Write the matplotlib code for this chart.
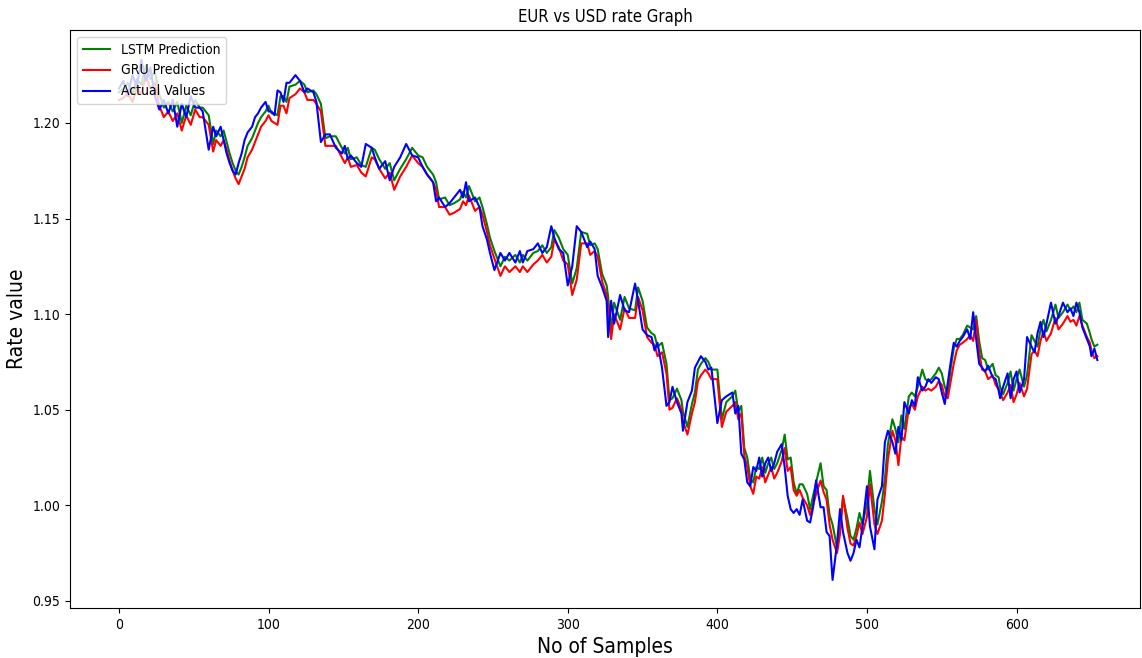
import numpy as np
import matplotlib
matplotlib.use("Agg")
import matplotlib.pyplot as plt
from matplotlib import font_manager

# Sample index of each reading
samples = [0, 3, 6, 9, 12, 15, 18, 21, 24, 27, 30, 33, 36, 39, 42, 45, 48, 51, 54, 56,
           60, 63, 65, 68, 70, 72, 74, 76, 78, 80, 82, 84, 86, 89, 91, 93, 95, 98, 100, 102,
           104, 106, 108, 110, 112, 114, 118, 121, 124, 126, 130, 132, 135, 138, 141, 145, 149, 151, 153, 155,
           159, 162, 165, 169, 171, 174, 178, 181, 184, 188, 192, 196, 200, 203, 206, 210, 212, 214, 218, 221,
           224, 228, 230, 232, 234, 238, 241, 243, 246, 248, 251, 255, 258, 261, 265, 268, 270, 273, 277, 280,
           283, 286, 289, 291, 294, 297, 300, 303, 306, 309, 313, 315, 318, 320, 323, 326, 327, 329, 331, 335,
           338, 341, 345, 347, 350, 353, 356, 358, 360, 363, 366, 368, 370, 373, 376, 377, 380, 383, 385, 387,
           389, 392, 394, 396, 400, 403, 406, 410, 412, 414, 416, 418, 420, 422, 424, 426, 428, 430, 432, 434,
           436, 438, 440, 443, 445, 447, 449, 451, 453, 455, 457, 460, 462, 464, 466, 469, 471, 473, 475, 477,
           480, 482, 484, 487, 489, 491, 493, 495, 497, 500, 502, 505, 507, 510, 512, 514, 517, 519, 521, 523,
           525, 528, 530, 532, 534, 537, 539, 541, 543, 546, 548, 550, 552, 554, 556, 558, 560, 562, 564, 567,
           569, 571, 573, 575, 577, 579, 581, 584, 586, 588, 589, 591, 594, 596, 598, 600, 602, 605, 607, 610,
           612, 614, 616, 618, 620, 623, 626, 628, 631, 634, 636, 638, 640, 642, 644, 647, 649, 650, 652, 654]

actual = [1.218, 1.222, 1.214, 1.225, 1.219, 1.233, 1.222, 1.229, 1.214, 1.207, 1.212, 1.205, 1.212, 1.198, 1.210, 1.203, 1.214, 1.208, 1.208, 1.206,
          1.186, 1.198, 1.193, 1.198, 1.191, 1.184, 1.179, 1.175, 1.173, 1.179, 1.184, 1.191, 1.195, 1.198, 1.203, 1.205, 1.208, 1.211, 1.206, 1.206,
          1.204, 1.217, 1.216, 1.211, 1.221, 1.221, 1.225, 1.222, 1.216, 1.218, 1.216, 1.211, 1.190, 1.194, 1.194, 1.187, 1.184, 1.188, 1.181, 1.183,
          1.179, 1.177, 1.189, 1.187, 1.182, 1.176, 1.180, 1.170, 1.177, 1.182, 1.189, 1.183, 1.182, 1.177, 1.173, 1.169, 1.159, 1.161, 1.156, 1.158,
          1.161, 1.165, 1.161, 1.169, 1.159, 1.161, 1.156, 1.146, 1.139, 1.132, 1.123, 1.132, 1.128, 1.132, 1.127, 1.133, 1.127, 1.133, 1.134, 1.137,
          1.132, 1.135, 1.146, 1.140, 1.134, 1.132, 1.115, 1.125, 1.146, 1.143, 1.135, 1.138, 1.134, 1.120, 1.114, 1.107, 1.088, 1.107, 1.095, 1.110,
          1.102, 1.101, 1.116, 1.107, 1.092, 1.089, 1.088, 1.081, 1.085, 1.072, 1.052, 1.054, 1.062, 1.054, 1.048, 1.039, 1.054, 1.060, 1.072, 1.075,
          1.078, 1.075, 1.071, 1.072, 1.043, 1.055, 1.057, 1.059, 1.048, 1.052, 1.027, 1.024, 1.012, 1.010, 1.020, 1.018, 1.025, 1.015, 1.022, 1.025,
          1.018, 1.022, 1.028, 1.032, 1.020, 1.005, 0.998, 0.996, 0.998, 0.995, 1.003, 0.992, 0.991, 0.999, 1.013, 0.999, 0.999, 0.986, 0.984, 0.961,
          0.980, 0.998, 0.986, 0.975, 0.971, 0.975, 0.982, 0.978, 0.989, 1.010, 0.989, 0.977, 1.003, 1.010, 1.033, 1.039, 1.033, 1.027, 1.041, 1.034,
          1.054, 1.048, 1.055, 1.052, 1.067, 1.060, 1.062, 1.066, 1.064, 1.067, 1.066, 1.059, 1.053, 1.064, 1.075, 1.085, 1.083, 1.086, 1.088, 1.092,
          1.087, 1.101, 1.087, 1.074, 1.072, 1.070, 1.073, 1.067, 1.066, 1.060, 1.056, 1.062, 1.069, 1.056, 1.066, 1.070, 1.059, 1.066, 1.088, 1.083,
          1.080, 1.090, 1.096, 1.088, 1.095, 1.106, 1.095, 1.099, 1.106, 1.101, 1.103, 1.099, 1.106, 1.101, 1.093, 1.087, 1.083, 1.078, 1.082, 1.076]

lstm = [1.216, 1.218, 1.221, 1.215, 1.223, 1.220, 1.230, 1.223, 1.227, 1.215, 1.208, 1.211, 1.206, 1.211, 1.200, 1.209, 1.204, 1.212, 1.208, 1.208,
        1.204, 1.189, 1.196, 1.193, 1.196, 1.190, 1.184, 1.179, 1.175, 1.173, 1.177, 1.182, 1.188, 1.192, 1.196, 1.200, 1.203, 1.206, 1.209, 1.205,
        1.205, 1.204, 1.214, 1.214, 1.211, 1.219, 1.220, 1.222, 1.220, 1.216, 1.217, 1.215, 1.210, 1.192, 1.193, 1.193, 1.187, 1.184, 1.187, 1.181,
        1.182, 1.178, 1.177, 1.187, 1.186, 1.181, 1.176, 1.179, 1.170, 1.176, 1.181, 1.187, 1.183, 1.182, 1.177, 1.173, 1.169, 1.160, 1.161, 1.157,
        1.158, 1.160, 1.164, 1.161, 1.167, 1.159, 1.161, 1.156, 1.147, 1.140, 1.133, 1.125, 1.130, 1.128, 1.131, 1.127, 1.131, 1.128, 1.132, 1.133,
        1.136, 1.132, 1.135, 1.144, 1.140, 1.134, 1.131, 1.116, 1.124, 1.143, 1.142, 1.136, 1.137, 1.134, 1.121, 1.115, 1.109, 1.092, 1.106, 1.097,
        1.109, 1.103, 1.102, 1.114, 1.107, 1.093, 1.090, 1.089, 1.083, 1.085, 1.074, 1.055, 1.056, 1.061, 1.055, 1.049, 1.041, 1.053, 1.059, 1.071,
        1.074, 1.077, 1.075, 1.071, 1.071, 1.045, 1.054, 1.057, 1.060, 1.049, 1.052, 1.030, 1.025, 1.014, 1.012, 1.020, 1.019, 1.025, 1.017, 1.022,
        1.025, 1.019, 1.022, 1.029, 1.037, 1.024, 1.025, 1.012, 1.006, 1.011, 1.011, 1.006, 0.998, 1.005, 1.012, 1.022, 1.010, 1.008, 0.995, 0.990,
        0.978, 0.988, 1.004, 0.993, 0.984, 0.982, 0.988, 0.996, 0.990, 1.001, 1.018, 0.998, 0.990, 1.002, 1.014, 1.032, 1.045, 1.040, 1.033, 1.047,
        1.040, 1.057, 1.059, 1.057, 1.062, 1.071, 1.066, 1.065, 1.066, 1.069, 1.072, 1.069, 1.062, 1.058, 1.072, 1.082, 1.087, 1.087, 1.089, 1.094,
        1.093, 1.092, 1.099, 1.086, 1.077, 1.076, 1.071, 1.074, 1.068, 1.067, 1.062, 1.058, 1.064, 1.070, 1.060, 1.066, 1.071, 1.062, 1.068, 1.089,
        1.086, 1.083, 1.092, 1.097, 1.091, 1.097, 1.105, 1.098, 1.101, 1.105, 1.102, 1.104, 1.101, 1.106, 1.097, 1.095, 1.090, 1.087, 1.083, 1.084]

gru = [1.212, 1.213, 1.216, 1.211, 1.218, 1.215, 1.225, 1.218, 1.221, 1.209, 1.203, 1.206, 1.201, 1.205, 1.196, 1.204, 1.199, 1.207, 1.203, 1.203,
       1.199, 1.185, 1.191, 1.188, 1.191, 1.186, 1.180, 1.175, 1.171, 1.168, 1.172, 1.176, 1.182, 1.186, 1.190, 1.194, 1.198, 1.201, 1.204, 1.201,
       1.200, 1.199, 1.209, 1.209, 1.205, 1.213, 1.215, 1.218, 1.216, 1.212, 1.212, 1.210, 1.206, 1.188, 1.188, 1.188, 1.182, 1.179, 1.182, 1.177,
       1.178, 1.174, 1.172, 1.182, 1.181, 1.176, 1.171, 1.174, 1.165, 1.172, 1.177, 1.183, 1.179, 1.177, 1.173, 1.169, 1.165, 1.156, 1.156, 1.152,
       1.153, 1.155, 1.159, 1.157, 1.162, 1.154, 1.156, 1.152, 1.143, 1.136, 1.129, 1.120, 1.125, 1.122, 1.125, 1.122, 1.125, 1.122, 1.126, 1.128,
       1.131, 1.127, 1.130, 1.139, 1.135, 1.128, 1.126, 1.110, 1.118, 1.137, 1.137, 1.131, 1.133, 1.130, 1.117, 1.110, 1.104, 1.087, 1.100, 1.092,
       1.103, 1.098, 1.098, 1.109, 1.102, 1.088, 1.085, 1.084, 1.078, 1.080, 1.069, 1.050, 1.051, 1.056, 1.050, 1.044, 1.037, 1.048, 1.054, 1.065,
       1.068, 1.071, 1.069, 1.066, 1.066, 1.041, 1.049, 1.052, 1.054, 1.045, 1.048, 1.026, 1.020, 1.010, 1.006, 1.015, 1.014, 1.020, 1.012, 1.016,
       1.020, 1.014, 1.017, 1.023, 1.030, 1.018, 1.020, 1.008, 1.005, 1.008, 1.004, 1.000, 0.995, 1.000, 1.006, 1.013, 1.007, 1.003, 0.990, 0.982,
       0.975, 0.985, 1.005, 0.988, 0.980, 0.979, 0.984, 0.991, 0.985, 0.994, 1.011, 0.990, 0.985, 0.992, 1.006, 1.024, 1.039, 1.034, 1.021, 1.036,
       1.034, 1.051, 1.053, 1.050, 1.057, 1.062, 1.060, 1.061, 1.060, 1.062, 1.065, 1.063, 1.057, 1.056, 1.065, 1.074, 1.081, 1.084, 1.085, 1.087,
       1.089, 1.086, 1.097, 1.080, 1.071, 1.070, 1.066, 1.068, 1.063, 1.061, 1.059, 1.055, 1.059, 1.063, 1.054, 1.058, 1.064, 1.057, 1.061, 1.079,
       1.081, 1.078, 1.086, 1.091, 1.086, 1.090, 1.098, 1.092, 1.095, 1.099, 1.096, 1.097, 1.094, 1.099, 1.094, 1.088, 1.085, 1.081, 1.077, 1.078]

# the reference text looks horizontally squeezed: use a condensed face if one is installed
names = {f.name for f in font_manager.fontManager.ttflist if f.stretch == "condensed"}
if "DejaVu Sans" in names:
    plt.rcParams["font.stretch"] = "condensed"
elif "Liberation Sans Narrow" in names:
    plt.rcParams["font.family"] = "Liberation Sans Narrow"

fig = plt.figure(figsize=(11.42, 6.58), dpi=100)
ax = fig.add_axes([70 / 1142, 50 / 658, 1070 / 1142, 578 / 658])

ax.plot(samples, lstm, color="green", label="LSTM Prediction")
ax.plot(samples, gru, color="red", label="GRU Prediction")
ax.plot(samples, actual, color="blue", label="Actual Values")

ax.set_xlim(-32.7, 682.5)
ax.set_ylim(0.9463, 1.2486)

ax.set_title("EUR vs USD rate Graph", fontsize=12)
ax.set_xlabel("No of Samples", fontsize=15)
ax.set_ylabel("Rate value", fontsize=15)
ax.legend(loc="upper left")

fig.savefig("out.png", dpi=100)
